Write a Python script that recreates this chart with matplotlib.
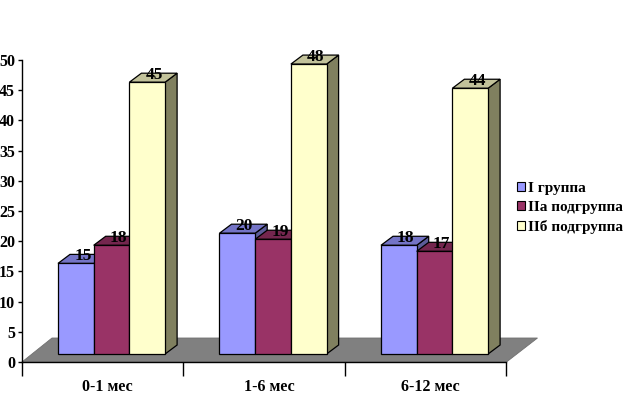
import matplotlib
matplotlib.use("Agg")
import matplotlib.pyplot as plt
from matplotlib.patches import Polygon, Patch

# data
categories = ["0-1 мес", "1-6 мес", "6-12 мес"]
series_names = ["I группа", "IIa подгруппа", "IIб подгруппа"]
group_1 = [15, 20, 18]
group_2a = [18, 19, 17]
group_2b = [45, 48, 44]
yticks = list(range(0, 51, 5))

front_colors = ["#9999FF", "#993366", "#FFFFCC"]
top_colors = ["#7474c6", "#74264e", "#c2c29a"]
side_colors = ["#5c5c99", "#5c1f3d", "#80805f"]

plt.rcParams["font.family"] = ["Liberation Serif", "DejaVu Serif"]
plt.rcParams["font.weight"] = "bold"

W, H = 632, 409
fig = plt.figure(figsize=(W / 100, H / 100), dpi=100)
ax = fig.add_axes([22 / W, (H - 362) / H, 484.5 / W, 302 / H])
ax.set_xlim(0, len(categories))
ax.set_ylim(0, 50)

# pixel -> data unit helpers for the fake 3d look
px = len(categories) / 484.5
py = 50 / 302
dx, dy = 12 * px, 9 * py
base = 8 * py
bw = 35.7 * px
off = 36 * px

# floor
n = len(categories)
floor = Polygon([(0, 0), (n, 0), (n + 31 * px, 24 * py), (30 * px, 24 * py)],
                closed=True, facecolor="#808080", edgecolor="#707070", lw=0.6,
                clip_on=False, zorder=1)
ax.add_patch(floor)

allseries = [group_1, group_2a, group_2b]
for i in range(n):
    for j, vals in enumerate(allseries):
        v = vals[i]
        x0 = i + off + j * bw
        x1 = x0 + bw
        y0 = base
        y1 = base + v
        z = 2 + i * 10 + j
        face = Polygon([(x0, y0), (x1, y0), (x1, y1), (x0, y1)], closed=True,
                       facecolor=front_colors[j], edgecolor="black", lw=0.9,
                       clip_on=False, zorder=z)
        topf = Polygon([(x0, y1), (x1, y1), (x1 + dx, y1 + dy), (x0 + dx, y1 + dy)],
                       closed=True, facecolor=top_colors[j], edgecolor="black",
                       lw=0.9, clip_on=False, zorder=z)
        sidef = Polygon([(x1, y0), (x1 + dx, y0 + dy), (x1 + dx, y1 + dy), (x1, y1)],
                        closed=True, facecolor=side_colors[j], edgecolor="black",
                        lw=0.9, clip_on=False, zorder=z)
        ax.add_patch(sidef)
        ax.add_patch(topf)
        ax.add_patch(face)
        ax.text(x0 + bw / 2 + 7 * px, y1 + dy - 1.5 * py, str(v), ha="center",
                va="center", fontsize=12.5, fontweight="bold", zorder=100)

for s in ["top", "right"]:
    ax.spines[s].set_visible(False)
ax.spines["left"].set_linewidth(1)
ax.spines["bottom"].set_linewidth(1)

ax.set_yticks(yticks)
ax.tick_params(axis="y", direction="out", length=3, width=1, pad=2, labelsize=11.5)

ax.set_xticks(range(n + 1))
ax.set_xticklabels([])
ax.tick_params(axis="x", which="major", direction="out", length=10, width=1)
ax.set_xticks([i + 0.5 + 5 * px for i in range(n)], minor=True)
ax.set_xticklabels(categories, minor=True)
ax.tick_params(axis="x", which="minor", length=0, pad=12, labelsize=11.5)

handles = [Patch(facecolor=c, edgecolor="black", lw=0.8) for c in front_colors]
fig.legend(handles, series_names, loc="upper left",
           bbox_to_anchor=(517 / W, 1 - 182 / H), frameon=False, fontsize=11,
           handlelength=0.55, handleheight=0.55, handletextpad=0.15,
           labelspacing=0.4, borderpad=0, borderaxespad=0)

fig.savefig("out.png", dpi=100)
